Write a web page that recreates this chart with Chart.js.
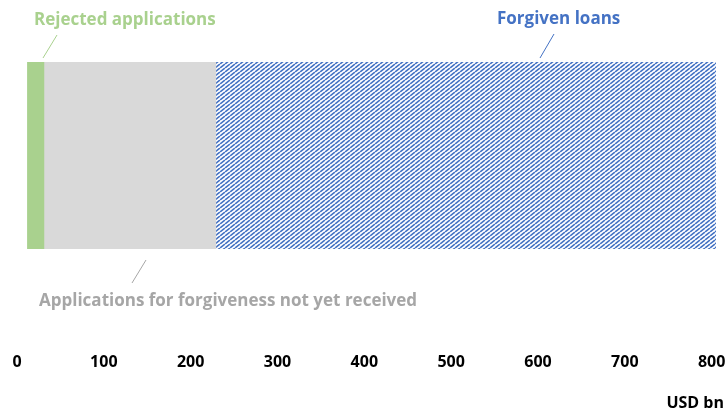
<!DOCTYPE html>
<html><head><meta charset="utf-8">
<script src="https://cdn.jsdelivr.net/npm/chart.js@4"></script>
<style>html,body{margin:0;padding:0;background:#fff}#wrap{width:726px;height:413px;position:relative}</style>
</head><body><div id="wrap"><canvas id="c" width="726" height="413"></canvas></div>
<script>
// ---- data ----
const categories = ['PPP loans'];
const seriesNames = ['Rejected applications', 'Applications for forgiveness not yet received', 'Forgiven loans'];
const barStart = 12;               // USD bn where the bar begins
const rejected = [19];             // USD bn
const notYetReceived = [198];      // USD bn
const forgiven = [576];            // USD bn
const tickValues = [0, 100, 200, 300, 400, 500, 600, 700, 800];
const axisUnit = 'USD bn';

// ---- styles ----
const GREEN = '#a9d18e', GREY = '#d9d9d9', BLUE = '#4472c4', GREYTXT = '#a6a6a6';
const FONT = '"Open Sans", sans-serif';

function hatch(color) {
  const w = 5, h = 4;
  const c = document.createElement('canvas');
  c.width = w; c.height = h;
  const g = c.getContext('2d');
  g.fillStyle = '#fff'; g.fillRect(0, 0, w, h);
  g.strokeStyle = color; g.lineWidth = 1.6;
  g.beginPath();
  for (let k = -1; k <= 1; k++) { g.moveTo(k * w, h); g.lineTo(k * w + w, 0); }
  g.stroke();
  return g.createPattern(c, 'repeat');
}

// floating segments built from cumulative values
const seg = [rejected, notYetReceived, forgiven];
const ranges = [];
categories.forEach((_, i) => {
  let s = barStart;
  seg.forEach((arr, k) => {
    ranges[k] = ranges[k] || [];
    ranges[k].push([s, s + arr[i]]);
    s += arr[i];
  });
});
const colors = [GREEN, GREY, hatch(BLUE)];

const annot = {
  id: 'annot',
  afterDraw(chart) {
    const ctx = chart.ctx;
    ctx.save();
    ctx.lineWidth = 1;
    function line(c, x1, y1, x2, y2) { ctx.strokeStyle = c; ctx.beginPath(); ctx.moveTo(x1, y1); ctx.lineTo(x2, y2); ctx.stroke(); }
    function text(t, c, x, y, align, font) { ctx.fillStyle = c; ctx.font = font; ctx.textAlign = align; ctx.textBaseline = 'middle'; ctx.fillText(t, x, y); }
    const bold = 'bold 17px ' + FONT;
    text(seriesNames[0], GREEN, 34, 20, 'left', bold);
    line(GREEN, 43, 58, 57, 35);
    text(seriesNames[2], BLUE, 497, 19, 'left', bold);
    line(BLUE, 540, 58, 554, 34);
    text(seriesNames[1], GREYTXT, 39, 301, 'left', bold);
    line(GREYTXT, 146, 260, 132, 283);
    text(axisUnit, '#000', 724, 403, 'right', 'bold 16px ' + FONT);
    ctx.restore();
  }
};

new Chart(document.getElementById('c'), {
  type: 'bar',
  data: {
    labels: categories,
    datasets: seriesNames.map((n, k) => ({
      label: n, data: ranges[k], backgroundColor: colors[k], borderWidth: 0,
      barPercentage: 1, categoryPercentage: 1
    }))
  },
  options: {
    indexAxis: 'y',
    responsive: false,
    animation: false,
    layout: { padding: { top: 62, left: 17, right: 10, bottom: 42 } },
    plugins: { legend: { display: false }, tooltip: { enabled: false } },
    scales: {
      x: {
        type: 'linear', min: 0, max: 805, stacked: false,
        afterBuildTicks: s => { s.ticks = tickValues.map(v => ({ value: v })); },
        afterFit: s => { s.paddingLeft = 0; s.paddingRight = 0; s.paddingTop = 0; s.paddingBottom = 0; s.height = 122; },
        grid: { display: false, drawTicks: false },
        border: { display: false },
        ticks: { color: '#000', padding: 104, maxRotation: 0, minRotation: 0, autoSkip: false,
                 font: { family: FONT, size: 16, weight: 'bold' } }
      },
      y: { display: false, stacked: true }
    }
  },
  plugins: [annot]
});
</script></body></html>
